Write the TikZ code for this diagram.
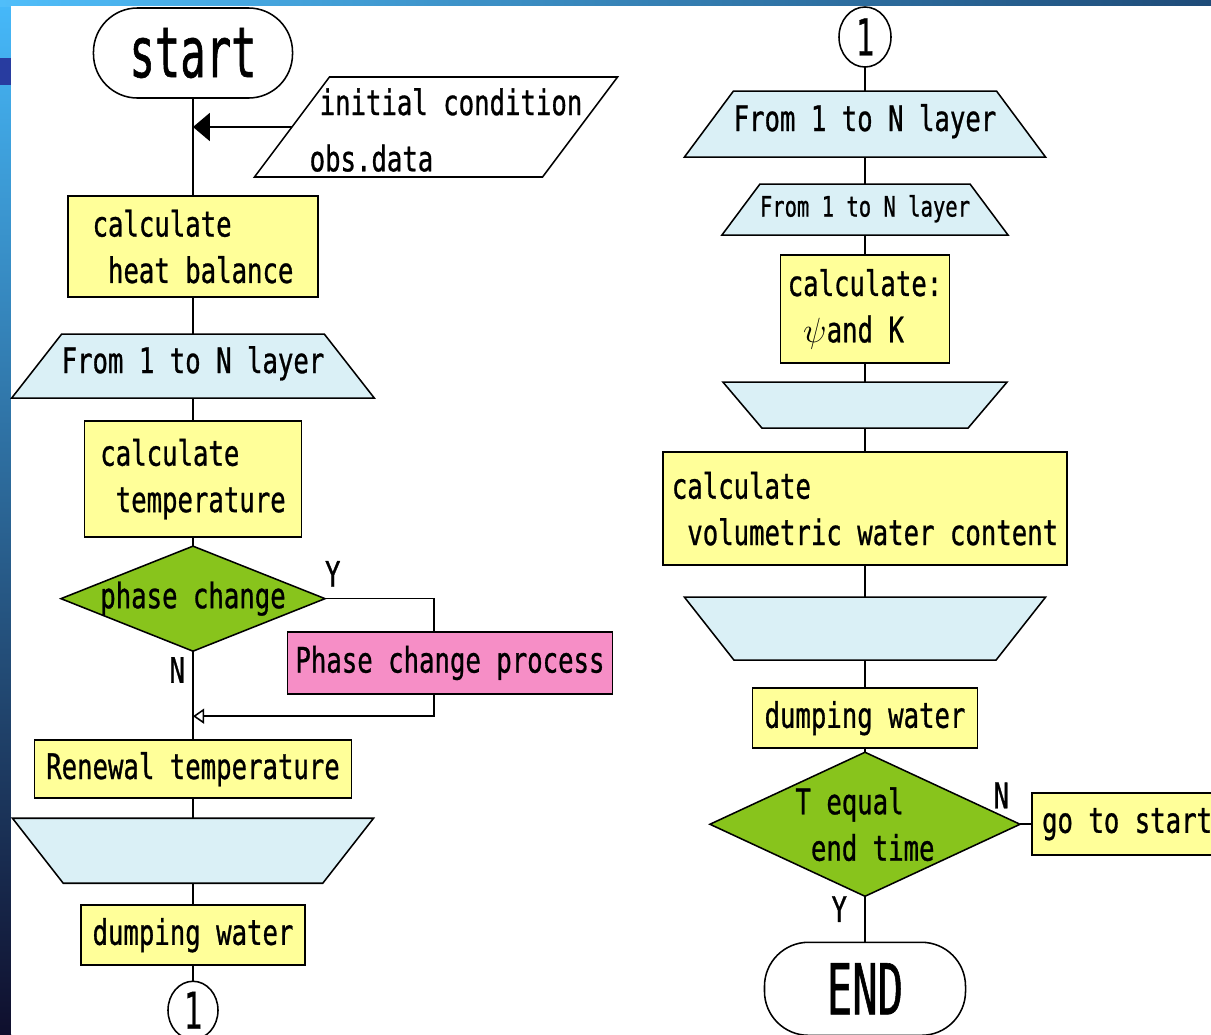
\documentclass[tikz,border=0pt]{standalone}
\usepackage{fontspec}
\setmainfont{DejaVu Sans Mono}[FakeStretch=0.73, FakeBold=0.8]
\newfontfamily\bigfont{DejaVu Sans Mono}[FakeStretch=0.6, FakeBold=0.8]
\usetikzlibrary{shapes}
\usetikzlibrary{positioning}
\usetikzlibrary{arrows.meta}

\definecolor{boxyellow}{RGB}{255,255,153}
\definecolor{loopblue}{RGB}{218,240,246}
\definecolor{decgreen}{RGB}{136,196,28}
\definecolor{procpink}{RGB}{246,142,198}
\definecolor{stripTop}{RGB}{70,185,250}
\definecolor{stripMid}{RGB}{55,95,225}
\definecolor{stripBot}{RGB}{15,15,45}
\definecolor{barLeft}{RGB}{80,190,250}
\definecolor{barMid}{RGB}{60,110,245}
\definecolor{barRight}{RGB}{30,75,120}
\definecolor{gridblue}{RGB}{40,60,160}

\begin{document}
\begin{tikzpicture}[x=0.025cm, y=-0.025cm, line width=1.1pt,
    every node/.style={font=\fontsize{25}{33}\selectfont, outer sep=0pt},
    terminal/.style={draw, rectangle, rounded corners=1.1cm, fill=white, font=\bigfont\fontsize{50}{50}\selectfont},
    io/.style={draw, trapezium, trapezium stretches body, trapezium left angle=53.13, trapezium right angle=126.87, fill=white, inner xsep=2pt},
    proc/.style={draw, rectangle, fill=boxyellow, align=left, inner sep=0pt},
    loopstart/.style={draw, trapezium, trapezium stretches body, fill=loopblue, inner xsep=0pt, text height=0.5cm, text depth=0.15cm},
    loopend/.style={draw, trapezium, trapezium stretches body, fill=loopblue, inner xsep=2pt},
    decision/.style={draw, diamond, fill=decgreen, align=left, inner sep=0pt, aspect=2.2},
    conn/.style={draw, ellipse, fill=white, inner sep=0pt, minimum width=1.3cm, minimum height=1.5cm, font=\bigfont\fontsize{36}{36}\selectfont},
    yn/.style={inner sep=0pt}]

    \useasboundingbox (0,0) rectangle (1211,1034);
    \clip (0,0) rectangle (1211,1034);
    \shade[top color=stripTop, middle color=stripMid, bottom color=stripBot] (0,0) rectangle (11,1034);
    \shade[left color=barLeft, middle color=barMid, right color=barRight] (0,0) rectangle (1211,6);
    \fill[gridblue] (0,58) rectangle (11,85);
    \fill[white] (11,6) rectangle (1211,1034);

    \node(start)[terminal, minimum width=4.975cm, minimum height=2.25cm] at (193,53){start};
    \node(obs)[io, minimum width=9.075cm, inner ysep=1.25cm, label={[align=left, xshift=0.25cm, yshift=-0.075cm]center:{\hspace*{0.25cm}initial condition\\[7pt]obs.data}}] at (436,127){};
    \node(hb)[proc, minimum width=6.25cm, minimum height=2.525cm, below=2.45cm of start]{calculate\\\phantom{x}heat balance};
    \node(lp1)[loopstart, trapezium left angle=52, trapezium right angle=52, minimum width=9cm, inner ysep=0.475cm, below=0.925cm of hb]{From 1 to N layer};
    \node(tp)[proc, minimum width=5.425cm, minimum height=2.9cm, below=0.575cm of lp1]{calculate\\\phantom{x}temperature};
    \node(pc)[decision, aspect=2.5, inner xsep=-6pt, minimum width=6.6cm, minimum height=2.625cm, below=0.225cm of tp]{phase change};
    \node(pcp)[proc, fill=procpink, minimum width=8.125cm, minimum height=1.55cm] at (450,663){Phase change process};
    \node(rn)[proc, minimum width=7.925cm, minimum height=1.45cm, below=2.225cm of pc]{Renewal temperature};
    \node(le1)[loopend, trapezium left angle=128, trapezium right angle=128, minimum width=9.025cm, inner ysep=0.8125cm, below=0.5cm of rn]{};
    \node(dw1)[proc, minimum width=5.6cm, minimum height=1.5cm, below=0.55cm of le1]{dumping water};
    \node(c1)[conn, minimum width=1.25cm, minimum height=1.45cm, below=0.4cm of dw1]{1};

    \node(y1)[yn, above right=0.3cm and 0cm of pc.east]{Y};
    \node(n1)[yn, below left=0.15cm and 0.2cm of pc.south]{N};
    \coordinate[above=0.6cm of rn.north] (mrg);

    \draw (start) -- (hb) -- (lp1) -- (tp) -- (pc) -- (rn) -- (le1) -- (dw1) -- (c1);
    \draw[-{Triangle[length=0.42cm, width=0.7cm]}] (obs.west) -- (obs.west -| start.south);
    \draw (pc.east) -| ([xshift=-0.4cm]pcp.north);
    \draw[-{Triangle[open, length=0.28cm, width=0.38cm]}] ([xshift=-0.4cm]pcp.south) |- (mrg);

    \node(c1r)[conn] at (865,37){1};
    \node(lp2)[loopstart, trapezium left angle=53.4, trapezium right angle=53.4, minimum width=9.025cm, inner ysep=0.5cm, below=0.6cm of c1r]{From 1 to N layer};
    \node(lp3)[loopstart, trapezium left angle=53.3, trapezium right angle=53.3, minimum width=7.1cm, inner ysep=0.3125cm, font=\fontsize{20}{24}\selectfont, below=0.675cm of lp2]{From 1 to N layer};
    \node(psi)[proc, minimum width=4.225cm, minimum height=2.7cm, below=0.5cm of lp3]{calculate:\\\phantom{x}$\psi$and K};
    \node(le2)[loopend, trapezium left angle=130.3, trapezium right angle=130.3, minimum width=7.1cm, inner ysep=0.575cm, below=0.475cm of psi]{};
    \node(vol)[proc, minimum width=10.1cm, minimum height=2.825cm, below=0.6cm of le2]{calculate\\\phantom{x}volumetric water content};
    \node(le3)[loopend, trapezium left angle=128.2, trapezium right angle=128.2, minimum width=9.025cm, inner ysep=0.7875cm, below=0.8cm of vol]{};
    \node(dw2)[proc, minimum width=5.625cm, minimum height=1.5cm, below=0.7cm of le3]{dumping water};
    \node(et)[decision, minimum width=7.75cm, minimum height=3.6cm, below=0.1cm of dw2]{T equal\\\phantom{x}end time};
    \node(stop)[terminal, minimum width=5.025cm, minimum height=2.325cm, below=1.15cm of et]{END};
    \node(go)[proc, minimum width=4.75cm, minimum height=1.55cm, right=0.3cm of et]{go to start};

    \node(n2)[yn, above left=0.4cm and 0.275cm of et.east]{N};
    \node(y2)[yn, below left=0cm and 0.45cm of et.south]{Y};

    \draw (c1r) -- (lp2) -- (lp3) -- (psi) -- (le2) -- (vol) -- (le3) -- (dw2) -- (et) -- (stop);
    \draw (et) -- (go);

\end{tikzpicture}
\end{document}
